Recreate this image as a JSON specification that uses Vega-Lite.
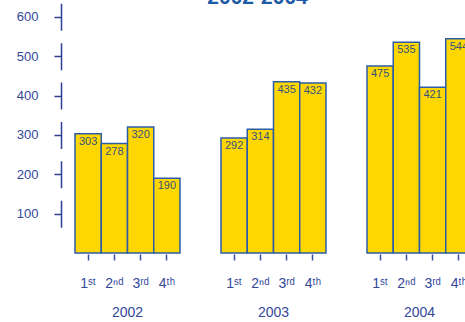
{
  "$schema": "https://vega.github.io/schema/vega-lite/v6.json",
  "padding": {"left": 16, "top": -13, "right": 0, "bottom": 0},
  "data": {"values": [
    {"year": "2002", "q": "1ˢᵗ", "value": 303},
    {"year": "2002", "q": "2ⁿᵈ", "value": 278},
    {"year": "2002", "q": "3ʳᵈ", "value": 320},
    {"year": "2002", "q": "4ᵗʰ", "value": 190},
    {"year": "2003", "q": "1ˢᵗ", "value": 292},
    {"year": "2003", "q": "2ⁿᵈ", "value": 314},
    {"year": "2003", "q": "3ʳᵈ", "value": 435},
    {"year": "2003", "q": "4ᵗʰ", "value": 432},
    {"year": "2004", "q": "1ˢᵗ", "value": 475},
    {"year": "2004", "q": "2ⁿᵈ", "value": 535},
    {"year": "2004", "q": "3ʳᵈ", "value": 421},
    {"year": "2004", "q": "4ᵗʰ", "value": 544}
  ]},
  "title": {
    "text": "2002-2004",
    "font": "Liberation Sans",
    "fontSize": 21,
    "fontWeight": "bold",
    "color": "#1c5aa6",
    "anchor": "middle",
    "offset": -7,
    "dx": 13
  },
  "facet": {
    "column": {
      "field": "year",
      "type": "ordinal",
      "header": {
        "title": null,
        "labelOrient": "bottom",
        "labelFont": "Liberation Sans",
        "labelFontSize": 14,
        "labelColor": "#33479a",
        "labelPadding": 16
      }
    }
  },
  "spacing": 39,
  "spec": {
    "width": 105,
    "height": 252,
    "encoding": {
      "x": {
        "field": "q",
        "type": "ordinal",
        "sort": null,
        "title": null,
        "scale": {"paddingInner": 0, "paddingOuter": 0},
        "axis": {
          "domain": false,
          "tickSize": 6,
          "tickColor": "#3a4f9e",
          "tickWidth": 1.5,
          "labelAngle": 0,
          "labelFont": "Liberation Sans",
          "labelFontSize": 14,
          "labelColor": "#33479a",
          "labelPadding": 16
        }
      },
      "y": {
        "field": "value",
        "type": "quantitative",
        "title": null,
        "scale": {"domain": [0, 640], "nice": false},
        "axis": {
          "values": [100, 200, 300, 400, 500, 600],
          "grid": false,
          "offset": 13,
          "domainColor": "#2f3f96",
          "domainWidth": 1.5,
          "domainDash": [0, 25.875, 27, 12.375, 27, 12.375, 27, 12.375, 27, 12.375, 27, 12.375, 27, 400],
          "tickSize": 7,
          "tickColor": "#2f3f96",
          "tickWidth": 1.5,
          "labelFont": "Liberation Sans",
          "labelFontSize": 13,
          "labelColor": "#33479a",
          "labelPadding": 16
        }
      }
    },
    "layer": [
      {
        "mark": {"type": "bar", "fill": "#FFD700", "stroke": "#2c5ca6", "strokeWidth": 1.5}
      },
      {
        "mark": {"type": "text", "baseline": "top", "dy": 2, "font": "Liberation Sans", "fontSize": 11, "color": "#34527f"},
        "encoding": {"text": {"field": "value", "type": "quantitative"}}
      }
    ]
  },
  "config": {"view": {"stroke": null}}
}
